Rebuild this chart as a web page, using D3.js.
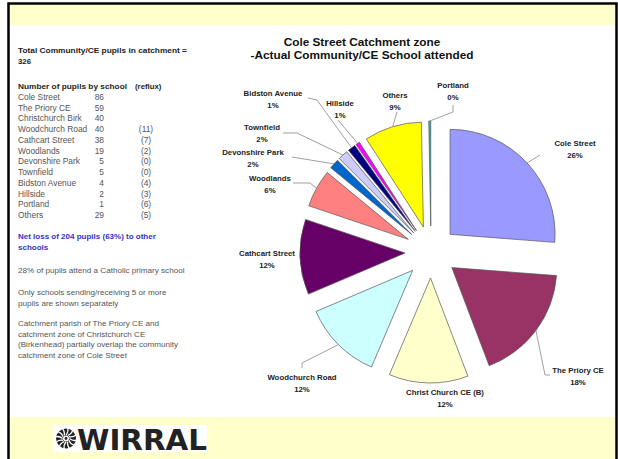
<!DOCTYPE html>
<html>
<head>
<meta charset="utf-8">
<script src="https://cdn.jsdelivr.net/npm/d3@7"></script>
<style>
  body { margin: 0; background: #fff; }
  svg { display: block; }
  text { font-family: "Liberation Sans", Arial, sans-serif; }
</style>
</head>
<body>
<div id="viz"></div>
<script>
// table on the left (same order as the slide)
var schoolNames = ['Cole Street', 'The Priory CE', 'Christchurch Birk', 'Woodchurch Road', 'Cathcart Street',
    'Woodlands', 'Devonshire Park', 'Townfield', 'Bidston Avenue', 'Hillside', 'Portland', 'Others'];
var schoolPupils = [86, 59, 40, 40, 38, 19, 5, 5, 4, 2, 1, 29];
var schoolReflux = [null, null, null, 11, 7, 2, 0, 0, 4, 3, 6, 5];

// pie slices, clockwise from 12 o'clock
var pieNames = ['Cole Street', 'The Priory CE', 'Christ Church CE (B)', 'Woodchurch Road', 'Cathcart Street',
    'Woodlands', 'Devonshire Park', 'Townfield', 'Bidston Avenue', 'Hillside', 'Others', 'Portland'];
var pieCounts = [86, 59, 40, 40, 38, 19, 5, 5, 4, 2, 29, 1];
var pieColors = ['#9999FF', '#993366', '#FFFFCC', '#CCFFFF', '#660066', '#FF8080',
    '#0066CC', '#CCCCFF', '#000080', '#FF00FF', '#FFFF00', '#20B8B8'];

var width = 618,
    height = 459,
    cx = 431,
    cy = 252,
    radius = 105,
    explode = 26;

// where excel left each label (centre of first line) and the bend points of its leader
var labelLayout = {
    'Cole Street':          { x: 575, y: 143, leader: [[540, 155]] },
    'The Priory CE':        { x: 578, y: 370, leader: [[550, 375], [545, 375]] },
    'Christ Church CE (B)': { x: 445, y: 392 },
    'Woodchurch Road':      { x: 302, y: 377, leader: [[302, 368], [302, 363]] },
    'Cathcart Street':      { x: 267, y: 253 },
    'Woodlands':            { x: 270, y: 178, leader: [[293, 183], [310, 183]] },
    'Devonshire Park':      { x: 253, y: 152, leader: [[292, 157]] },
    'Townfield':            { x: 262, y: 127, leader: [[283, 133], [297, 133]] },
    'Bidston Avenue':       { x: 273, y: 93,  leader: [[308, 98], [317, 100]] },
    'Hillside':             { x: 340, y: 103, leader: [[338, 120]] },
    'Others':               { x: 395, y: 95,  leader: [[397, 112]] },
    'Portland':             { x: 453, y: 85,  leader: [[453, 105], [453, 112]] }
};

var svg = d3.select('#viz').append('svg')
    .attr('width', width)
    .attr('height', height);

// slide frame
svg.append('rect').attr('x', 9).attr('y', 4).attr('width', 607).attr('height', 21).attr('fill', '#FFFFCC');
svg.append('rect').attr('x', 9).attr('y', 417).attr('width', 607).attr('height', 42).attr('fill', '#FFFFCC');
svg.append('path')
    .attr('d', 'M8.5,459 V3.5 H616.5 V459')
    .attr('fill', 'none')
    .attr('stroke', '#000')
    .attr('stroke-width', 2.5);

// title
var title = svg.append('text')
    .attr('x', 361)
    .attr('y', 46)
    .attr('text-anchor', 'middle')
    .style('font-size', '11.8px')
    .style('font-weight', 'bold')
    .attr('fill', '#111');
title.append('tspan').attr('x', 362).text('Cole Street Catchment zone');
title.append('tspan').attr('x', 362).attr('dy', 13).text('-Actual Community/CE School attended');

// left hand notes
var notes = svg.append('g').attr('transform', 'translate(18,0)');
var total = d3.sum(pieCounts) - 2; // slide quotes 326

function bold(y, str, len) {
    var t = notes.append('text').attr('y', y)
        .style('font-size', '7.8px').style('font-weight', 'bold').attr('fill', '#222')
        .text(str);
    if (len) t.attr('textLength', len).attr('lengthAdjust', 'spacingAndGlyphs');
    return t;
}
bold(53, 'Total  Community/CE pupils in catchment =', 169);
bold(64, total);
bold(89, 'Number of pupils by school', 109);
bold(89, '(reflux)').attr('x', 117);

var rowY = d3.scalePoint()
    .domain(schoolNames)
    .range([100, 218]);

var rows = notes.selectAll('g.row').data(schoolNames)
    .enter().append('g')
    .attr('class', 'row')
    .attr('transform', function(d) { return 'translate(0,' + rowY(d) + ')'; })
    .style('font-size', '8.4px')
    .attr('fill', '#555');

rows.append('text').text(function(d) { return d; });
rows.append('text')
    .attr('x', 86)
    .attr('text-anchor', 'end')
    .text(function(d, i) { return schoolPupils[i]; });
rows.append('text')
    .attr('x', 128)
    .attr('text-anchor', 'middle')
    .text(function(d, i) { return schoolReflux[i] === null ? '' : '(' + schoolReflux[i] + ')'; });

var blue = notes.append('text').attr('y', 239)
    .style('font-size', '8px').style('font-weight', 'bold').attr('fill', '#3333CC');
blue.append('tspan').attr('x', 0).text('Net loss of 204 pupils (63%) to other');
blue.append('tspan').attr('x', 0).attr('dy', 11).text('schools');

var paras = [
    ['28% of pupils attend a Catholic primary school'],
    ['Only schools sending/receiving 5 or more', 'pupils are shown separately'],
    ['Catchment parish of The Priory CE and', 'catchment zone of Christchurch CE',
     '(Birkenhead) partially overlap the community', 'catchment zone of Cole Street']
];
var paraY = [273, 295, 326];
paras.forEach(function(lines, i) {
    var t = notes.append('text').attr('y', paraY[i])
        .style('font-size', '8.1px').attr('fill', '#555');
    lines.forEach(function(line, j) {
        t.append('tspan').attr('x', 0).attr('dy', j === 0 ? 0 : 10.6).text(line);
    });
});

// exploded pie
var pie = d3.pie().sort(null).value(function(d) { return d; });
var arcs = pie(pieCounts);
var arc = d3.arc().innerRadius(0).outerRadius(radius);

function offset(d, r) {
    var a = (d.startAngle + d.endAngle) / 2;
    return [Math.sin(a) * r, -Math.cos(a) * r];
}

var chart = svg.append('g').attr('transform', 'translate(' + cx + ',' + cy + ')');

chart.selectAll('path.slice').data(arcs)
    .enter().append('path')
    .attr('class', 'slice')
    .attr('transform', function(d) {
        var o = offset(d, explode);
        return 'translate(' + o[0] + ',' + o[1] + ')';
    })
    .attr('d', arc)
    .attr('fill', function(d, i) { return pieColors[i]; })
    .attr('stroke', '#555')
    .attr('stroke-width', 0.7);

// leader lines
var line = d3.line();
arcs.forEach(function(d, i) {
    var lay = labelLayout[pieNames[i]];
    if (!lay.leader) return;
    var end = offset(d, explode + radius);
    var pts = lay.leader.map(function(p) { return [p[0] - cx, p[1] - cy]; });
    pts.push(end);
    chart.append('path')
        .attr('d', line(pts))
        .attr('fill', 'none')
        .attr('stroke', '#888')
        .attr('stroke-width', 0.8);
});

// labels
var pieTotal = d3.sum(pieCounts);
var labels = svg.selectAll('text.plabel').data(arcs)
    .enter().append('text')
    .attr('class', 'plabel')
    .attr('text-anchor', 'middle')
    .style('font-size', '7.8px')
    .style('font-weight', 'bold')
    .attr('fill', '#222')
    .attr('y', function(d, i) { return labelLayout[pieNames[i]].y + 3; });

labels.append('tspan')
    .attr('x', function(d, i) { return labelLayout[pieNames[i]].x; })
    .text(function(d, i) { return pieNames[i]; });
labels.append('tspan')
    .attr('x', function(d, i) { return labelLayout[pieNames[i]].x; })
    .attr('dy', 12)
    .text(function(d) { return Math.round(d.value / pieTotal * 100) + '%'; });

// Wirral logo
var logo = svg.append('g').attr('transform', 'translate(53,425)');
logo.append('rect').attr('width', 154).attr('height', 27).attr('fill', '#fff');
var badge = logo.append('g').attr('transform', 'translate(13,13.5)');
badge.append('circle').attr('r', 10).attr('fill', '#222');
d3.range(12).forEach(function(i) {
    badge.append('path')
        .attr('d', 'M0,-3.5 Q3,-7 1.5,-11')
        .attr('transform', 'rotate(' + i * 30 + ')')
        .attr('fill', 'none')
        .attr('stroke', '#fff')
        .attr('stroke-width', 1.3);
});
badge.append('circle').attr('r', 3).attr('fill', '#fff');
badge.append('circle').attr('r', 1.4).attr('fill', '#222');
logo.append('text')
    .attr('x', 24)
    .attr('y', 25)
    .attr('textLength', 130)
    .attr('lengthAdjust', 'spacingAndGlyphs')
    .style('font-family', '"DejaVu Sans", sans-serif')
    .style('font-size', '29px')
    .style('font-weight', 'bold')
    .attr('fill', '#222')
    .text('WIRRAL');
</script>
</body>
</html>
